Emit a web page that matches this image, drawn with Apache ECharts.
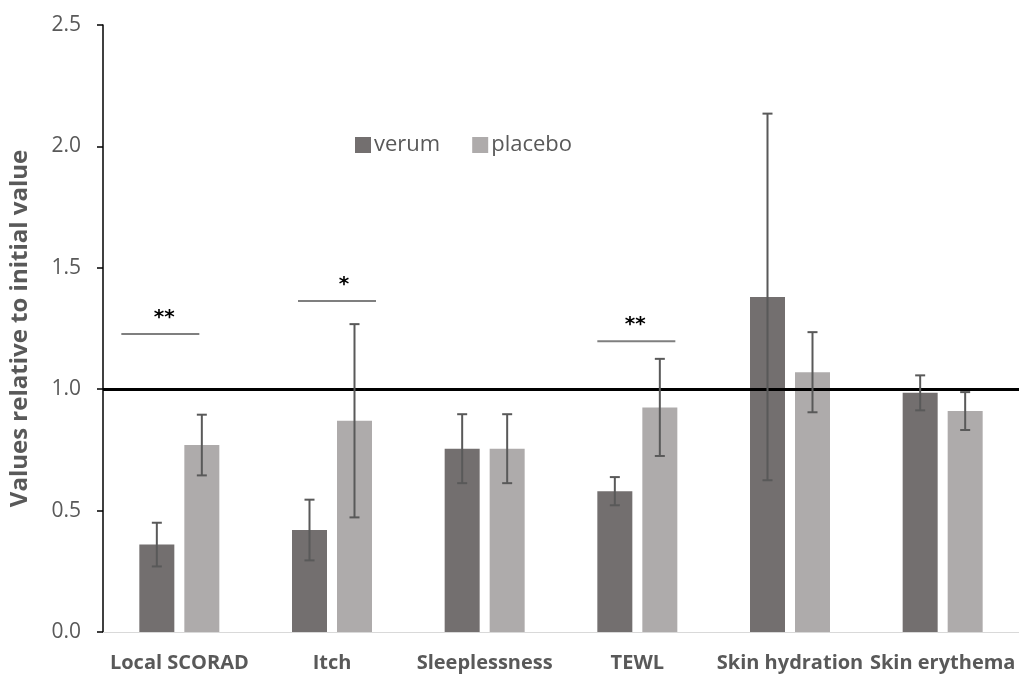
<!DOCTYPE html>
<html>
<head>
<meta charset="utf-8">
<script src="https://cdn.jsdelivr.net/npm/echarts@6/dist/echarts.min.js"></script>
<style>html,body{margin:0;padding:0;background:#fff;}#c{width:1019px;height:674px;}</style>
</head>
<body>
<div id="c"></div>
<script>
const categories = ['Local SCORAD', 'Itch', 'Sleeplessness', 'TEWL', 'Skin hydration', 'Skin erythema'];
const verum = [0.36, 0.42, 0.755, 0.58, 1.38, 0.985];
const verumErr = [0.09, 0.125, 0.142, 0.058, 0.755, 0.072];
const placebo = [0.77, 0.87, 0.755, 0.925, 1.07, 0.91];
const placeboErr = [0.125, 0.398, 0.142, 0.2, 0.165, 0.078];
const yTicks = [0, 0.5, 1.0, 1.5, 2.0, 2.5];
const referenceValue = 1.0;
const sigCategory = [0, 1, 3];
const sigLevel = [1.227, 1.363, 1.198];
const sigLabel = ['**', '*', '**'];

// styling of significance brackets (pixel offsets relative to category centre)
const sigStyle = [
  {x0: -58, x1: 20, tx: -15},
  {x0: -34, x1: 44, tx: 12},
  {x0: -40, x1: 38, tx: -2}
];

const BAR_W = 35, GAP = 10;
const fontFam = '"Open Sans", "Noto Sans", sans-serif';

function errSeries(vals, errs, side) {
  return {
    type: 'custom',
    z: 5,
    silent: true,
    data: vals.map((v, i) => [i, v - errs[i], v + errs[i]]),
    renderItem: function (params, api) {
      const i = api.value(0);
      const lo = api.coord([i, api.value(1)]);
      const hi = api.coord([i, api.value(2)]);
      const x = lo[0] + side * (BAR_W + GAP) / 2;
      const cap = 5;
      const st = {stroke: '#595959', lineWidth: 2};
      return {
        type: 'group',
        children: [
          {type: 'line', shape: {x1: x, y1: lo[1], x2: x, y2: hi[1]}, style: st},
          {type: 'line', shape: {x1: x - cap, y1: lo[1], x2: x + cap, y2: lo[1]}, style: st},
          {type: 'line', shape: {x1: x - cap, y1: hi[1], x2: x + cap, y2: hi[1]}, style: st}
        ]
      };
    }
  };
}

const chart = echarts.init(document.getElementById('c'));
chart.setOption({
  backgroundColor: '#fff',
  animation: false,
  grid: {left: 103, right: -8, top: 25, bottom: 42, containLabel: false},
  legend: {
    data: ['verum', 'placebo'],
    left: 355, top: 134, padding: 0,
    itemWidth: 16, itemHeight: 16, itemGap: 32,
    icon: 'rect',
    textStyle: {fontSize: 22, color: '#595959', fontFamily: fontFam, padding: [0, 0, 0, -2]}
  },
  xAxis: {
    type: 'category',
    data: categories,
    axisLine: {lineStyle: {color: '#d9d9d9', width: 1}},
    axisTick: {show: false},
    axisLabel: {fontSize: 20, fontWeight: 'bold', color: '#595959', fontFamily: fontFam, margin: 21, interval: 0}
  },
  yAxis: {
    type: 'value',
    min: yTicks[0], max: yTicks[yTicks.length - 1], interval: 0.5,
    name: 'Values relative to initial value',
    nameLocation: 'middle',
    nameGap: 71,
    nameTextStyle: {fontSize: 24, fontWeight: 'bold', color: '#595959', fontFamily: fontFam},
    axisLine: {show: true, lineStyle: {color: '#000', width: 1.5}},
    axisTick: {show: true, length: 6, lineStyle: {color: '#000', width: 1.5}},
    splitLine: {show: false},
    axisLabel: {fontSize: 21, color: '#595959', fontFamily: fontFam, margin: 22, formatter: v => v.toFixed(1)}
  },
  series: [
    {
      name: 'verum', type: 'bar', data: verum, barWidth: BAR_W, barGap: (GAP / BAR_W * 100) + '%',
      itemStyle: {color: '#736f6f'},
      markLine: {
        silent: true, symbol: 'none', label: {show: false},
        lineStyle: {color: '#000', width: 3, type: 'solid'},
        data: [{yAxis: referenceValue}]
      }
    },
    {
      name: 'placebo', type: 'bar', data: placebo, barWidth: BAR_W,
      itemStyle: {color: '#aeabab'}
    },
    errSeries(verum, verumErr, -1),
    errSeries(placebo, placeboErr, 1),
    {
      type: 'custom', z: 6, silent: true,
      data: sigCategory.map((c, k) => [c, sigLevel[k], k]),
      renderItem: function (params, api) {
        const k = api.value(2);
        const p = api.coord([api.value(0), api.value(1)]);
        const s = sigStyle[k];
        return {
          type: 'group',
          children: [
            {type: 'line', shape: {x1: p[0] + s.x0, y1: p[1], x2: p[0] + s.x1, y2: p[1]}, style: {stroke: '#7f7f7f', lineWidth: 2}},
            {type: 'text', style: {text: sigLabel[k], x: p[0] + s.tx, y: p[1] - 6, align: 'center', verticalAlign: 'bottom', fill: '#000', font: 'bold 20px "DejaVu Sans", sans-serif'}}
          ]
        };
      }
    }
  ]
});
</script>
</body>
</html>
